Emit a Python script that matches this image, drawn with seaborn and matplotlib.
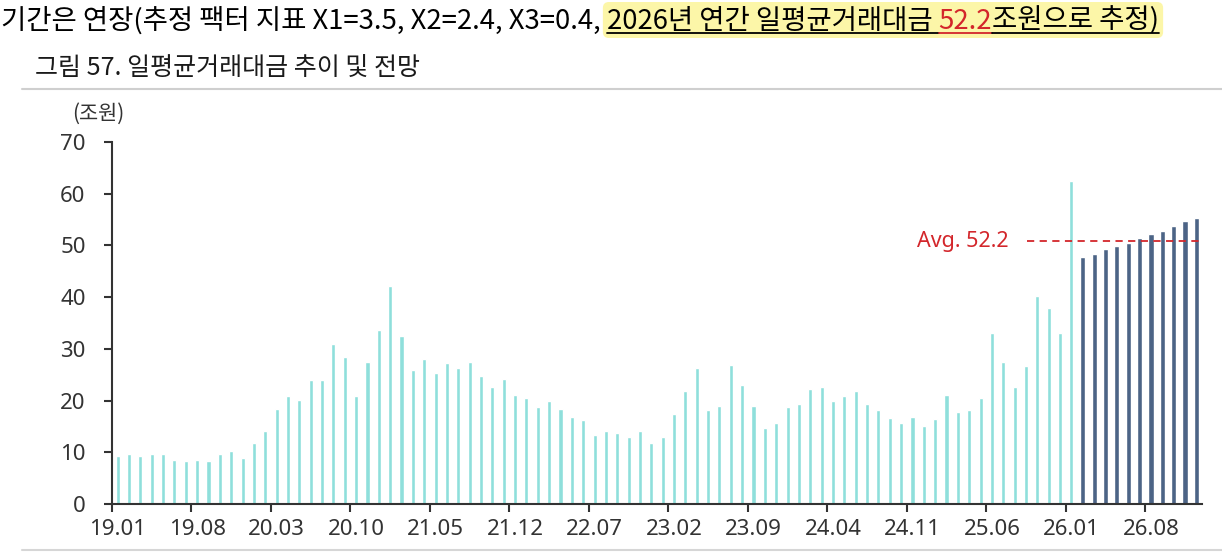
import pandas as pd
import matplotlib
matplotlib.use("Agg")
import matplotlib.pyplot as plt
import matplotlib.transforms as mtransforms
from matplotlib.patches import FancyBboxPatch
from matplotlib.lines import Line2D
import seaborn as sns

# ==================================================
# DATA (조원, monthly average daily trading value)
# ==================================================

months = [f"{y % 100:02d}.{m:02d}" for y in range(2019, 2027) for m in range(1, 13)]

actual = [
    9.3, 9.6, 9.3, 9.6, 9.6, 8.6, 8.4, 8.6, 8.4, 9.6, 10.2, 8.9,
    11.7, 14.1, 18.4, 20.8, 20.2, 23.9, 23.9, 30.9, 28.4, 20.8, 27.5, 33.6,
    42.1, 32.4, 26.0, 28.1, 25.4, 27.2, 26.3, 27.5, 24.8, 22.6, 24.2, 21.1,
    20.5, 18.7, 19.9, 18.4, 16.9, 16.3, 13.3, 14.1, 13.8, 12.9, 14.1, 11.7,
    12.9, 17.5, 21.8, 26.3, 18.1, 19.0, 26.9, 23.0, 19.0, 14.7, 15.6, 18.7,
    19.3, 22.3, 22.6, 19.9, 20.8, 21.8, 19.3, 18.1, 16.6, 15.6, 16.9, 15.1,
    16.5, 21.1, 17.8, 18.1, 20.5, 33.0, 27.5, 22.6, 26.6, 40.3, 37.9, 33.0,
    62.5,
]

forecast = [47.7, 48.3, 49.3, 49.8, 50.5, 51.4, 52.3, 52.8, 53.7, 54.7, 55.3]

tick_labels = ["19.01", "19.08", "20.03", "20.10", "21.05", "21.12", "22.07",
               "23.02", "23.09", "24.04", "24.11", "25.06", "26.01", "26.08"]

avg_label = "Avg. 52.2"
avg_line_y = 50.8

header_parts = [
    "기간은 연장(추정 팩터 지표 X1=3.5, X2=2.4, X3=0.4, ",
    "2026년 연간 일평균거래대금 ",
    "52.2",
    "조원으로 추정)",
]
title = "그림 57. 일평균거래대금 추이 및 전망"
unit = "(조원)"

TEAL = "#8fdfdb"
NAVY = "#4c6486"
RED = "#d3262b"
AXIS = "#333333"

# ==================================================
# FRAME
# ==================================================

df = pd.DataFrame({
    "month": months,
    "value": actual + forecast,
    "kind": ["actual"] * len(actual) + ["forecast"] * len(forecast),
})

sns.set_style("white")
plt.rcParams["font.family"] = ["Noto Sans CJK KR", "DejaVu Sans"]

fig = plt.figure(figsize=(12.22, 5.52), dpi=100)
ax = fig.add_axes([112 / 1222, 1 - 504 / 552, 1090 / 1222, 362 / 552])

sns.barplot(
    data=df,
    x="month",
    y="value",
    hue="kind",
    order=months,
    palette={"actual": TEAL, "forecast": NAVY},
    dodge=False,
    width=0.36,
    legend=False,
    saturation=1,
    ax=ax,
)

# forecast bars are a bit wider
for p in ax.patches:
    if matplotlib.colors.to_hex(p.get_facecolor()) == NAVY:
        cx = p.get_x() + p.get_width() / 2
        p.set_width(0.46)
        p.set_x(cx - 0.23)

ax.set_xlim(-0.5, len(months) - 0.5)
ax.set_ylim(0, 70)
ax.set_yticks(range(0, 71, 10))
ax.set_xlabel("")
ax.set_ylabel("")

tick_pos = [months.index(t) for t in tick_labels]
ax.set_xticks(tick_pos)
ax.set_xticklabels(tick_labels, family="Noto Sans", fontsize=16, color=AXIS)
ax.set_xticks([p - 0.5 for p in tick_pos], minor=True)
ax.tick_params(axis="x", which="major", length=0, pad=11)
ax.tick_params(axis="x", which="minor", length=6, width=1.5, color=AXIS,
               direction="out", bottom=True)
ax.tick_params(axis="y", length=6, width=1.5, color=AXIS, direction="out",
               left=True, pad=13)
for lab in ax.get_yticklabels():
    lab.set_family("Noto Sans")
    lab.set_fontsize(16)
    lab.set_color(AXIS)

sns.despine(ax=ax)
for s in ["left", "bottom"]:
    ax.spines[s].set_color(AXIS)
    ax.spines[s].set_linewidth(1.5)

# average line
x_start = months.index("25.09") + 0.05
ax.plot([x_start, len(months) - 0.5], [avg_line_y, avg_line_y],
        color=RED, lw=1.3, ls=(0, (4, 3)), zorder=5)
ax.text(x_start - 1.55, avg_line_y, avg_label, color=RED, fontsize=15.5,
        family="Noto Sans", ha="right", va="center")

# unit label
fig.text(98 / 1222, 1 - 114 / 552, unit, fontsize=15, ha="center", va="center",
         color=AXIS)

# ==================================================
# HEADER TEXT
# ==================================================

px = mtransforms.IdentityTransform()
fig.canvas.draw()
renderer = fig.canvas.get_renderer()

x = 1
base_y = 552 - 29
colors = ["black", "black", RED, "black"]
extents = []
for part, col in zip(header_parts, colors):
    t = fig.text(x, base_y, part, transform=px, fontsize=19.8, color=col,
                 va="baseline", ha="left")
    bb = t.get_window_extent(renderer)
    extents.append(bb)
    x = bb.x1

hl_x0 = extents[1].x0
hl_x1 = extents[-1].x1
fig.patches.append(FancyBboxPatch(
    (hl_x0 - 4, 552 - 38), hl_x1 - hl_x0 + 8, 36,
    boxstyle="round,pad=0,rounding_size=6", transform=px,
    facecolor="#fcf6a8", edgecolor="none", zorder=-1,
))
fig.lines.append(Line2D([hl_x0, extents[1].x1], [base_y - 4, base_y - 4],
                        transform=px, color="black", lw=1.3))
fig.lines.append(Line2D([extents[2].x0, extents[2].x1], [base_y - 4, base_y - 4],
                        transform=px, color=RED, lw=1.3))
fig.lines.append(Line2D([extents[3].x0, hl_x1], [base_y - 4, base_y - 4],
                        transform=px, color="black", lw=1.3))

fig.text(35, 552 - 69, title, transform=px, fontsize=18, color="#1a1a1a",
         va="center", ha="left")

# separators
fig.lines.append(Line2D([22, 1222], [552 - 89, 552 - 89], transform=px,
                        color="#cfcfcf", lw=1.5))
fig.lines.append(Line2D([22, 1222], [552 - 550, 552 - 550], transform=px,
                        color="#d6d6d6", lw=1.5))

fig.savefig("out.png", dpi=100)
plt.close()
